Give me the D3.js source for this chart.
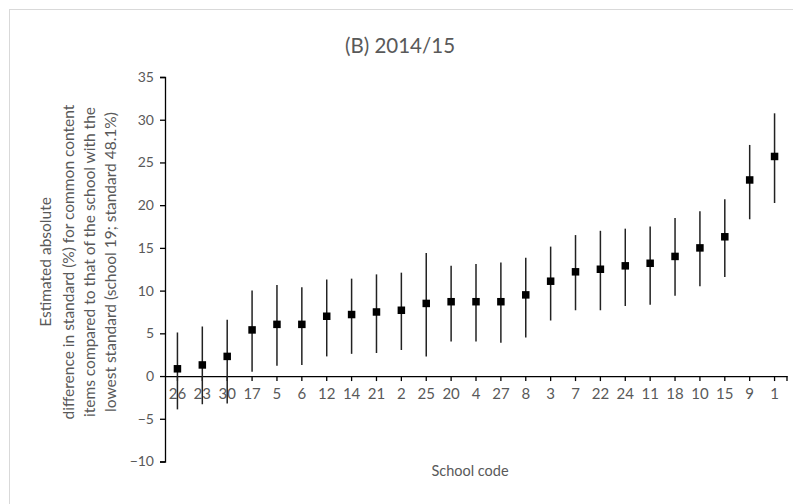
<!DOCTYPE html>
<html>
<head>
<meta charset="utf-8">
<script src="https://cdn.jsdelivr.net/npm/d3@7"></script>
<style>
  html, body { margin: 0; padding: 0; background: #fff; }
  svg { display: block; }
  text { font-family: Lato, "Open Sans", sans-serif; fill: #595959; }
</style>
</head>
<body>
<svg id="chart" width="793" height="504"></svg>
<script>
// School codes in plotted order, with estimate and confidence limits (%)
const schools = ["26","23","30","17","5","6","12","14","21","2","25","20","4","27","8","3","7","22","24","11","18","10","15","9","1"];
const estimate = [0.85,1.3,2.3,5.4,6.05,6.05,7.0,7.2,7.5,7.7,8.5,8.7,8.7,8.7,9.5,11.1,12.2,12.5,12.9,13.2,14.0,15.0,16.3,22.95,25.7];
const upper    = [5.1,5.8,6.6,10.0,10.65,10.4,11.3,11.4,11.9,12.1,14.4,12.9,13.1,13.3,13.85,15.15,16.5,17.0,17.25,17.5,18.5,19.3,20.7,27.05,30.75];
const lower    = [-3.9,-3.3,-3.2,0.5,1.2,1.3,2.3,2.6,2.7,3.05,2.3,4.05,4.05,3.9,4.5,6.5,7.7,7.7,8.2,8.35,9.4,10.5,11.6,18.35,20.25];
const yTicks = [-10,-5,0,5,10,15,20,25,30,35];

const titleText = "(B) 2014/15";
const yTitleLines = [
  "Estimated absolute",
  "difference in standard (%) for common content",
  "items compared to that of the school with the",
  "lowest standard (school 19; standard 48.1%)"
];
const xTitle = "School code";

const svg = d3.select("#chart");

// outer chart frame
svg.append("rect").attr("x", 9.5).attr("y", 9.5).attr("width", 800).attr("height", 520)
  .attr("fill", "none").attr("stroke", "#d9d9d9").attr("stroke-width", 1);

const plot = { left: 165, right: 787, top: 77, bottom: 461.5 };

const x = d3.scaleBand().domain(schools).range([plot.left, plot.right]);
const y = d3.scaleLinear().domain([-10, 35]).range([plot.bottom, plot.top]);

// title
svg.append("text").attr("x", 400).attr("y", 53).attr("text-anchor", "middle")
  .style("font-size", "20.5px").text(titleText);

// y axis
const yAxis = svg.append("g").attr("transform", `translate(${plot.left},0)`)
  .call(d3.axisLeft(y).tickValues(yTicks).tickSize(5).tickPadding(6).tickFormat(d3.format("d")));
yAxis.select(".domain").attr("stroke", "#000").attr("stroke-width", 1.3);
yAxis.selectAll(".tick line").attr("stroke", "#000").attr("stroke-width", 1.3);
yAxis.selectAll(".tick text").style("font-size", "14px").style("font-family", "Lato, sans-serif").attr("fill", "#595959");

// x axis along zero, ticks at category centres
const xAxis = svg.append("g").attr("transform", `translate(0,${y(0)})`)
  .call(d3.axisBottom(x).tickSize(5).tickSizeOuter(0).tickPadding(7));
xAxis.select(".domain").attr("stroke", "#000").attr("stroke-width", 1.3);
xAxis.selectAll(".tick line").attr("stroke", "#000").attr("stroke-width", 1.3);
xAxis.selectAll(".tick text").style("font-size", "15px").style("font-family", "Lato, sans-serif").attr("fill", "#595959");
xAxis.append("line").attr("x1", plot.right).attr("x2", plot.right).attr("y1", 0).attr("y2", 5)
  .attr("stroke", "#000").attr("stroke-width", 1.3);

// error bars and point estimates
const cx = d => x(d) + x.bandwidth() / 2;
const g = svg.append("g");
g.selectAll("line.err").data(schools).join("line").attr("class", "err")
  .attr("x1", cx).attr("x2", cx)
  .attr("y1", (d, i) => y(upper[i])).attr("y2", (d, i) => y(lower[i]))
  .attr("stroke", "#222").attr("stroke-width", 1.5);
const s = 7.5;
g.selectAll("rect.pt").data(schools).join("rect").attr("class", "pt")
  .attr("x", d => cx(d) - s / 2).attr("y", (d, i) => y(estimate[i]) - s / 2)
  .attr("width", s).attr("height", s).attr("fill", "#000");

// y axis title, rotated
const yLineX = [45, 68, 89, 110];
yTitleLines.forEach((t, i) => {
  svg.append("text")
    .attr("transform", `translate(${yLineX[i] + 5.5},262) rotate(-90)`)
    .attr("text-anchor", "middle").style("font-size", "15.5px").text(t);
});

// x axis title
svg.append("text").attr("x", 470).attr("y", 476).attr("text-anchor", "middle")
  .style("font-size", "14.5px").text(xTitle);
</script>
</body>
</html>
